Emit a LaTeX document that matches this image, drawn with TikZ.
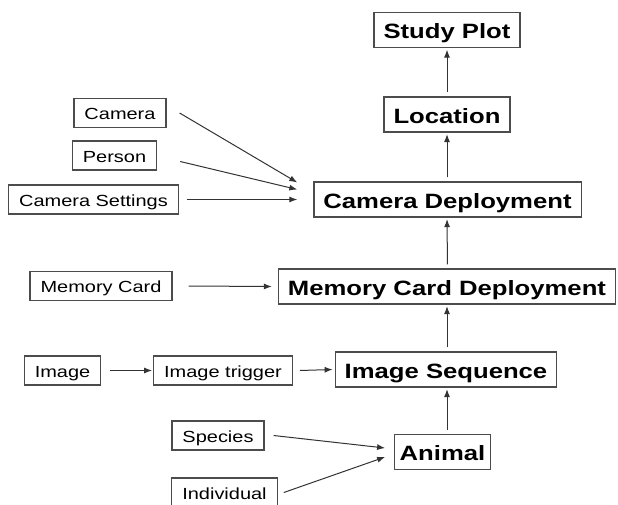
\documentclass[tikz,border=0pt]{standalone}
\usepackage{fontspec}
\setmainfont{Liberation Sans}[FakeStretch = 1.24]
\usetikzlibrary{arrows.meta}

\begin{document}
\begin{tikzpicture}[x = 1pt, y = -1pt,
    every node/.style = {draw = black!70, line width = 1.2pt, fill = white, text = black},
    entity/.style = {font = \fontsize{20.7}{24}\selectfont\bfseries, minimum height = 35pt,
        inner xsep = 9.5pt, text height = 17pt, text depth = 0pt},
    attribute/.style = {font = \fontsize{16.1}{19}\selectfont, minimum height = 29pt,
        inner xsep = 10.5pt, text height = 13pt, text depth = 0pt},
    link/.style = {draw = black!80, line width = 1pt, -{Latex[length = 8pt, width = 6pt]}},
    uplink/.style = {link, shorten < = 4pt, shorten > = 1.5pt}]
    \useasboundingbox (0, 0) rectangle (618, 504);
    % main chain
    \node[entity] (plot) at (447, 30) {Study Plot};
    \node[entity] (location) at (447, 114.5) {Location};
    \node[entity] (camdep) at (447.5, 199.5) {Camera Deployment};
    \node[entity] (carddep) at (447, 286.5) {Memory Card Deployment};
    \node[entity] (sequence) at (446, 369.5) {Image Sequence};
    \node[entity, inner xsep = 5pt] (animal) at (442.5, 452) {Animal};
    % side tables
    \node[attribute] (camera) at (120, 113) {Camera};
    \node[attribute] (person) at (114.5, 155.5) {Person};
    \node[attribute] (settings) at (93.5, 199.5) {Camera Settings};
    \node[attribute] (card) at (101, 286) {Memory Card};
    \node[attribute] (image) at (62.5, 370.5) {Image};
    \node[attribute] (trigger) at (223, 370.5) {Image trigger};
    \node[attribute] (species) at (218, 435.5) {Species};
    \node[attribute] (individual) at (224.5, 492.5) {Individual};

    \draw[uplink] (location) -- (plot);
    \draw[uplink] (camdep.north -| location.south) -- (location);
    \draw[uplink] (carddep.north -| camdep.south) -- (camdep.south -| carddep.north);
    \draw[uplink] (sequence.north -| carddep.south) -- (carddep.south);
    \draw[uplink] (animal.north -| carddep.south) -- (sequence.south -| carddep.south);

    \draw[link] ([xshift = 13pt]camera.east) -- ([xshift = -16pt, yshift = 17pt]camdep.west);
    \draw[link] ([xshift = 23pt, yshift = -6pt]person.east) -- ([xshift = -16pt, yshift = 10pt]camdep.west);
    \draw[link] ([xshift = 8pt]settings.east) -- ([xshift = -16pt]camdep.west);
    \draw[link] ([xshift = 16pt]card.east) -- ([xshift = -6pt]carddep.west);
    \draw[link] ([xshift = 9pt]image.east) -- ([xshift = -1pt]trigger.west);
    \draw[link] ([xshift = 7pt]trigger.east) -- ([xshift = -2pt]sequence.west);
    \draw[link] ([xshift = 9pt]species.east) -- ([xshift = -9pt, yshift = 4pt]animal.west);
    \draw[link] ([xshift = 6pt]individual.east) -- ([xshift = -9pt, yshift = -5pt]animal.west);
\end{tikzpicture}
\end{document}
